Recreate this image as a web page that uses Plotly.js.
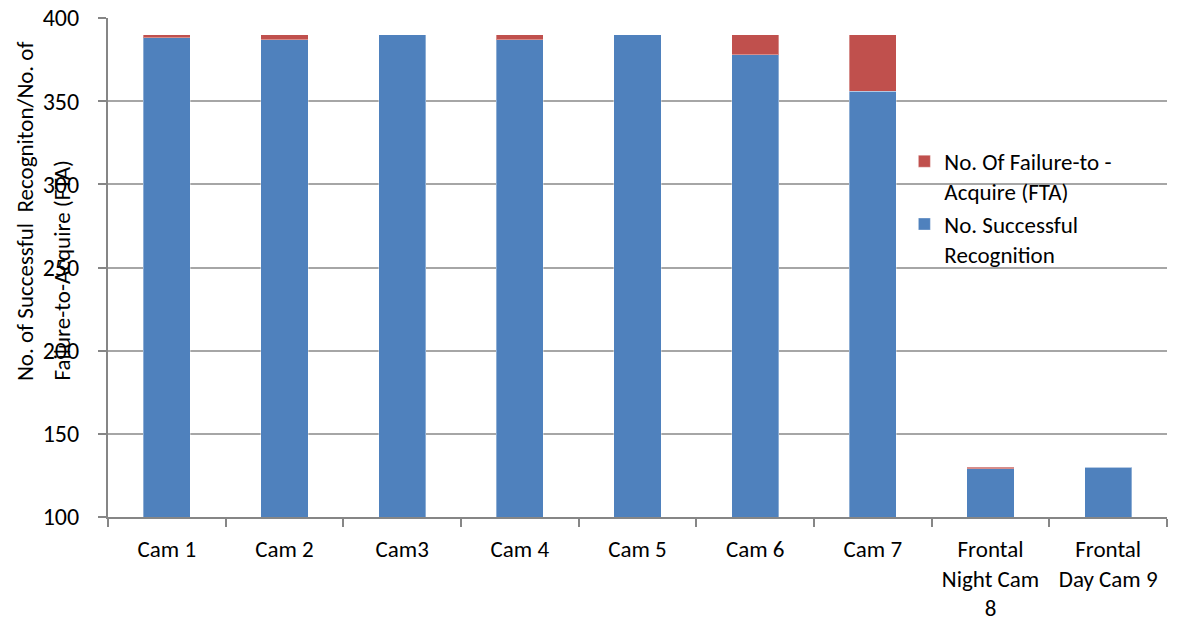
<!DOCTYPE html>
<html>
<head>
<meta charset="utf-8">
<script src="https://cdn.plot.ly/plotly-3.0.1.min.js"></script>
<style>html,body{margin:0;padding:0;background:#fff;}#chart{width:1177px;height:632px;}</style>
</head>
<body>
<div id="chart"></div>
<script>
var categories = ["Cam 1", "Cam 2", "Cam3", "Cam 4", "Cam 5", "Cam 6", "Cam 7", "Frontal<br>Night Cam<br>8", "Frontal<br>Day Cam 9"];
var successful = [388, 387, 390, 387, 390, 378, 356, 129, 130];
var failures = [2, 3, 0, 3, 0, 12, 34, 1, 0];
var yTicks = [100, 150, 200, 250, 300, 350, 400];
var seriesNames = ["No. Successful<br>Recognition", "No. Of Failure-to -<br>Acquire (FTA)"];

var FONT = "Carlito, Calibri, Lato, sans-serif";

var traces = [
  {type: "bar", name: seriesNames[0], x: categories, y: successful,
   marker: {color: "#4F81BD", line: {color: "rgba(255,255,255,0.35)", width: 1}}},
  {type: "bar", name: seriesNames[1], x: categories, y: failures,
   marker: {color: "#C0504D", line: {color: "rgba(255,255,255,0.35)", width: 1}}}
];

var layout = {
  width: 1177, height: 632,
  margin: {l: 108, r: 10, t: 18, b: 115},
  barmode: "stack",
  bargap: 0.6,
  paper_bgcolor: "#fff", plot_bgcolor: "#fff",
  font: {family: FONT, color: "#000", size: 23},
  showlegend: true,
  legend: {x: 0.752, y: 0.756, xanchor: "left", yanchor: "top",
           traceorder: "reversed", bgcolor: "rgba(0,0,0,0)", valign: "top",
           itemwidth: 30, tracegroupgap: 6, font: {family: FONT, size: 23, color: "#000"}},
  xaxis: {type: "category", tickson: "boundaries", ticks: "outside", ticklen: 8,
          tickcolor: "#868686", tickwidth: 2, showline: true, linecolor: "#868686", linewidth: 2,
          showgrid: false, ticklabelstandoff: 10,
          tickfont: {family: FONT, size: 23, color: "#000"}, fixedrange: true},
  yaxis: {range: [100, 400], tickvals: yTicks, ticktext: yTicks.map(String), ticks: "outside", ticklen: 8,
          tickcolor: "#868686", tickwidth: 2, showline: true, linecolor: "#868686", linewidth: 2,
          showgrid: true, gridcolor: "#a6a6a6", gridwidth: 2, zeroline: false,
          ticklabelstandoff: 14,
          tickfont: {family: FONT, size: 24, color: "#000"}, fixedrange: true},
  annotations: [
    {text: "No. of Successful  Recogniton/No. of", textangle: -90, xref: "paper", yref: "paper",
     x: (25 - 108) / 1059, y: (517 - 383) / 499, xanchor: "center", yanchor: "bottom",
     showarrow: false, font: {family: FONT, size: 23, color: "#000"}},
    {text: "Failure-to-Acquire (FTA)", textangle: -90, xref: "paper", yref: "paper",
     x: (61 - 108) / 1059, y: (517 - 383) / 499, xanchor: "center", yanchor: "bottom",
     showarrow: false, font: {family: FONT, size: 23, color: "#000"}}
  ]
};

Plotly.newPlot("chart", traces, layout, {displayModeBar: false, staticPlot: true});
</script>
</body>
</html>
